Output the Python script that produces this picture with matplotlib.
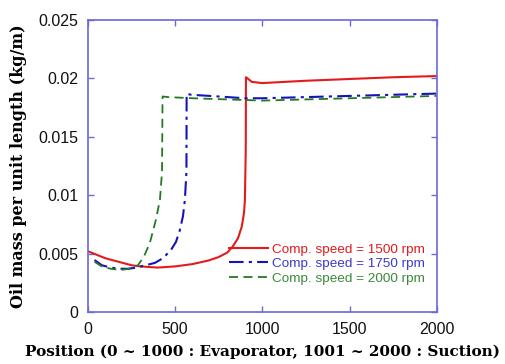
import matplotlib
matplotlib.use("Agg")
import matplotlib.pyplot as plt

# Data
x_1500 = [0, 50, 100, 150, 200, 250, 300, 400, 500, 600, 690, 750, 800, 830, 860, 882, 895, 900, 905, 906, 915, 940, 1000, 1250, 1500, 1750, 2000]
y_1500 = [0.0052, 0.0049, 0.0046, 0.0044, 0.0042, 0.0040, 0.0039, 0.0038, 0.0039, 0.0041, 0.0044, 0.0047, 0.0051, 0.0056, 0.0063, 0.0073, 0.0085, 0.0096, 0.0140, 0.0201, 0.0200, 0.0197, 0.0196, 0.0198, 0.01995, 0.0201, 0.0202]

x_1750 = [38, 80, 130, 180, 229, 280, 330, 384, 430, 476, 505, 527, 545, 556, 565, 566, 590, 700, 900, 1000, 1250, 1500, 1750, 2000]
y_1750 = [0.00445, 0.0040, 0.0038, 0.0037, 0.0037, 0.0038, 0.0040, 0.0042, 0.0046, 0.0053, 0.0060, 0.0070, 0.0082, 0.0096, 0.0120, 0.0187, 0.0186, 0.0185, 0.0183, 0.0183, 0.0184, 0.0185, 0.0186, 0.0187]

x_2000 = [38, 80, 130, 190, 240, 287, 320, 355, 390, 413, 425, 428, 460, 600, 900, 1000, 1250, 1500, 1750, 2000]
y_2000 = [0.0043, 0.0039, 0.0037, 0.0036, 0.0037, 0.0040, 0.0047, 0.0059, 0.0079, 0.0096, 0.0120, 0.01845, 0.0184, 0.0183, 0.01815, 0.0181, 0.0182, 0.0183, 0.0184, 0.0185]

labels = ["Comp. speed = 1500 rpm", "Comp. speed = 1750 rpm", "Comp. speed = 2000 rpm"]
x_ticks = [0, 500, 1000, 1500, 2000]
y_ticks = [0, 0.005, 0.01, 0.015, 0.02, 0.025]
y_tick_labels = ["0", "0.005", "0.01", "0.015", "0.02", "0.025"]

spine_c = "#6a6ad8"

fig = plt.figure(figsize=(5.05, 3.64), dpi=100)
ax = fig.add_axes([0.174, 0.143, 0.691, 0.802])

l1, = ax.plot(x_1500, y_1500, color="#e41a1c", lw=1.5, ls="-")
l2, = ax.plot(x_1750, y_1750, color="#1414b8", lw=1.5, ls=(0, (7, 2.5, 1.5, 2.5)))
l3, = ax.plot(x_2000, y_2000, color="#237a23", lw=1.3, ls=(0, (5, 3)))

ax.set_xlim(0, 2000)
ax.set_ylim(0, 0.025)
ax.set_xticks(x_ticks)
ax.set_xticklabels([str(v) for v in x_ticks])
ax.set_yticks(y_ticks)
ax.set_yticklabels(y_tick_labels)

for s in ax.spines.values():
    s.set_color(spine_c)
    s.set_linewidth(1.2)
ax.tick_params(direction="in", length=4, width=1, color=spine_c,
               top=True, right=True, labelsize=11.5, pad=7)
for t in ax.get_xticklabels() + ax.get_yticklabels():
    t.set_family("Liberation Sans")
    t.set_color("#111111")

ax.set_xlabel("Position (0 ~ 1000 : Evaporator, 1001 ~ 2000 : Suction)",
              family="DejaVu Serif", fontweight="bold", fontsize=11, labelpad=6)
ax.set_ylabel("Oil mass per unit length (kg/m)",
              family="DejaVu Serif", fontweight="bold", fontsize=11.5, labelpad=8)

leg = ax.legend([l1, l2, l3], labels, loc="lower right", bbox_to_anchor=(0.98, 0.075),
                frameon=False, prop={"family": "Liberation Sans", "size": 9.7},
                handlelength=2.9, handletextpad=0.25, labelspacing=0.15, borderaxespad=0)
for txt, c in zip(leg.get_texts(), ["#e41a1c", "#3a3ad0", "#3a8a3a"]):
    txt.set_color(c)

fig.savefig("out.png", dpi=100)
